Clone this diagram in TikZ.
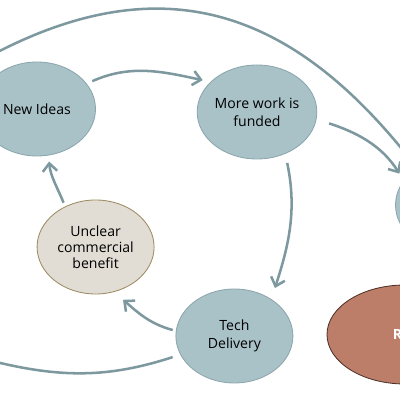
\documentclass[tikz,border=0pt]{standalone}
\usepackage{fontspec}
\setmainfont{Open Sans}
\usetikzlibrary{arrows.meta, positioning, shapes.geometric}
\definecolor{idea-blue}{HTML}{A9C2C8}
\definecolor{idea-edge}{HTML}{8BA6AD}
\definecolor{flow-grey}{HTML}{7D989E}
\definecolor{doubt-fill}{HTML}{E1DDD4}
\definecolor{doubt-edge}{HTML}{9E8A63}
\definecolor{money-red}{HTML}{BC7E69}
\definecolor{money-edge}{HTML}{4E3329}

\begin{document}
\begin{tikzpicture}[
    stage/.style={ellipse, draw=idea-edge, fill=idea-blue, line width=0.6pt,
      minimum width=2.925cm, minimum height=2.35cm, align=center,
      font=\fontsize{10}{13}\selectfont, inner sep=0pt},
    doubt/.style={stage, draw=doubt-edge, fill=doubt-fill,
      font=\fontsize{10}{11.4}\selectfont},
    money/.style={ellipse, draw=money-edge, fill=money-red, line width=0.6pt,
      minimum width=3.9cm, minimum height=2.475cm},
    flow/.style={draw=flow-grey, line width=1.8pt,
      -{Straight Barb[length=2mm, width=3.6mm]}}
  ]
    \useasboundingbox (0,0) rectangle (10,10);
    \clip (0,0) rectangle (10,10);

    \node[stage] (ideas) at (0.925,7.275) {New Ideas};
    \node[stage] (funded) at (6.425,7.2) {More work is\\funded};
    \node[doubt] (unclear) at (2.39,3.825) {Unclear\\commercial\\benefit};
    \node[stage] (delivery) at (5.86,1.6) {Tech\\Delivery};
    \node[stage] (rightstage) at (11.35,4.875) {};
    \node[money] (outcome) at (10.125,1.6375) {};
    \node[right=16.5mm of outcome.west, inner sep=0pt, text=white,
          font=\fontsize{10}{12}\selectfont\bfseries] (outlabel) {R};

    \coordinate (farleft) at (-0.25,8.6);
    \coordinate (lowleft) at (-0.3,1.0);

    % main loop
    \draw[flow, shorten <=1.5mm, shorten >=2mm]
      (ideas.27) to[out=24, in=168] (funded.147);
    \draw[flow, shorten <=2.3mm, shorten >=2.9mm]
      (funded.-56) to[out=-78, in=72] (delivery.45);
    \draw[flow, shorten <=0.8mm, shorten >=3mm]
      (delivery.175) to[out=165, in=-40] (unclear.-68);
    \draw[flow, shorten <=1mm, shorten >=1.5mm]
      (unclear.127) to[out=112, in=-85] (ideas.-76);

    % off to the right
    \draw[flow, shorten <=3.3mm, shorten >=2mm]
      (funded.-7) to[out=-18, in=122] (rightstage.154);
    \draw[flow, shorten >=1mm]
      (farleft) to[out=28, in=128, looseness=1.15] (rightstage.135);
    \draw[flow, shorten <=2mm]
      (delivery.199) to[out=-162, in=-14] (lowleft);
  \end{tikzpicture}
\end{document}
